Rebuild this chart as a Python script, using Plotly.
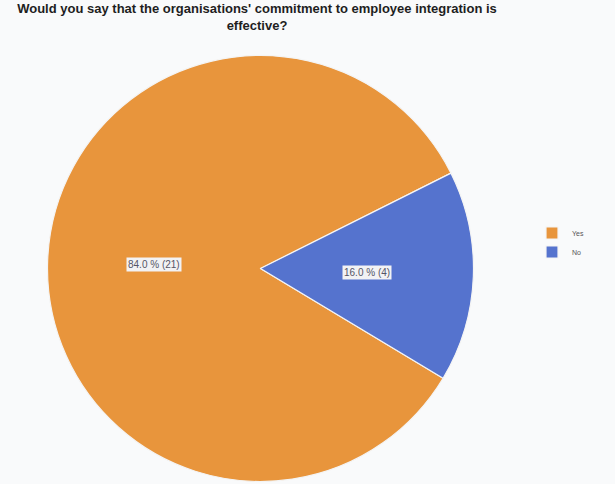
import math
import plotly.graph_objects as go

labels = ["Yes", "No"]
values = [21, 4]
colors = ["#E8953C", "#5573CE"]
title_text = "Would you say that the organisations' commitment to employee integration is<br>effective?"

W, H = 615, 484
cx, cy, r = 260.5, 268.5, 213
rotation = 121

fig = go.Figure(go.Pie(
    labels=labels, values=values, sort=False, direction="clockwise",
    rotation=rotation, textinfo="none", hoverinfo="label+value+percent",
    marker=dict(colors=colors, line=dict(color="#F4F4F4", width=1.2)),
    domain=dict(x=[(cx - r) / W, (cx + r) / W], y=[1 - (cy + r) / H, 1 - (cy - r) / H]),
))

# slice labels placed at half radius along each slice's mid-angle (computed from data)
total = sum(values)
start = rotation
annotations = []
for lab, v in zip(labels, values):
    span = 360 * v / total
    mid = start + span / 2
    start += span
    ang = math.radians(mid)
    px = cx + 0.5 * r * math.sin(ang)
    py = cy - 0.5 * r * math.cos(ang)
    annotations.append(dict(
        x=px / W, y=1 - py / H, xref="paper", yref="paper", showarrow=False,
        xanchor="center", yanchor="middle",
        text=f"{100 * v / total:.1f} % ({v})",
        font=dict(family="Liberation Sans, Arial", size=10, color="#555566"),
        bgcolor="#F2F2F4", borderpad=1,
    ))

fig.update_layout(
    width=W, height=H,
    margin=dict(l=0, r=0, t=0, b=0),
    paper_bgcolor="#F9FAFB", plot_bgcolor="#F9FAFB",
    title=dict(text=f"<b>{title_text}</b>", x=257 / W, xanchor="center", y=0.973, yanchor="top",
               font=dict(family="Liberation Sans, Arial", size=13, color="#1E1E1E")),
    legend=dict(x=532 / W, y=1 - 242.5 / H, xanchor="left", yanchor="middle",
                font=dict(family="Liberation Sans, Arial", size=7, color="#555555"),
                itemwidth=30, bgcolor="rgba(0,0,0,0)"),
    annotations=annotations,
)

fig.write_html("out.html", config={"displayModeBar": False},
               post_script="document.body.style.margin='0';")
